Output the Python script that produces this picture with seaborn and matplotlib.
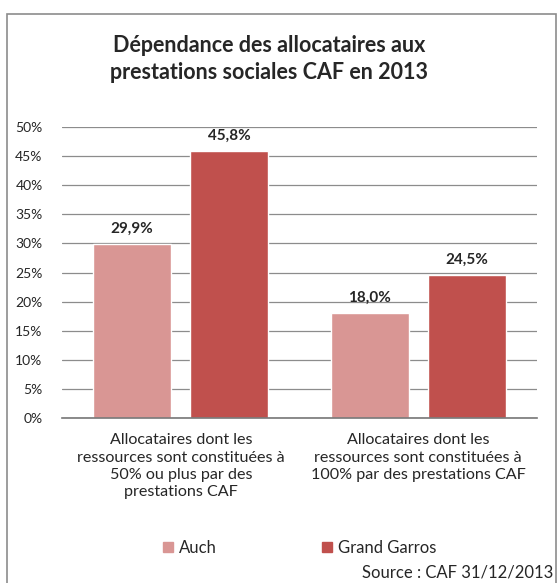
import matplotlib
matplotlib.use("Agg")
import matplotlib.pyplot as plt
import pandas as pd
import seaborn as sns
from matplotlib.patches import Rectangle

categories = [
    "Allocataires dont les\nressources sont constituées à\n50% ou plus par des\nprestations CAF",
    "Allocataires dont les\nressources sont constituées à\n100% par des prestations CAF",
]
series = ["Auch", "Grand Garros"]
auch_values = [29.9, 18.0]
garros_values = [45.8, 24.5]
colors = ["#D99694", "#C0504D"]
yticks = [0, 5, 10, 15, 20, 25, 30, 35, 40, 45, 50]

df = pd.DataFrame({
    "categorie": categories * 2,
    "commune": [series[0]] * 2 + [series[1]] * 2,
    "valeur": auch_values + garros_values,
})

sns.set_style("white")
plt.rcParams["font.family"] = ["Lato", "DejaVu Sans"]

fig = plt.figure(figsize=(5.57, 5.83), dpi=100)
fig.patch.set_facecolor("white")
fig.patches.append(Rectangle((7 / 557, -0.01), 549 / 557, 1 - 14 / 583 + 0.01,
                             transform=fig.transFigure, fill=False,
                             edgecolor="#8c8c8c", lw=1.2))

ax = fig.add_axes([62 / 557, 1 - 418 / 583, 475 / 557, 291 / 583])
sns.barplot(data=df, x="categorie", y="valeur", hue="commune",
            palette=colors, width=0.82, gap=0.2, ax=ax, legend=False,
            saturation=1)

ax.set_ylim(0, 50)
ax.set_yticks(yticks)
ax.set_yticklabels([f"{t}%" for t in yticks], fontsize=10)
ax.yaxis.grid(True, color="#8c8c8c", lw=0.9)
ax.set_axisbelow(True)
for s in ["top", "right", "left"]:
    ax.spines[s].set_visible(False)
ax.spines["bottom"].set_color("#777777")
ax.spines["bottom"].set_linewidth(1.2)
ax.tick_params(axis="y", length=0, pad=14)
ax.tick_params(axis="x", length=0, pad=11)
ax.set_xticks(range(len(categories)))
ax.set_xticklabels(categories, fontsize=11.6, linespacing=1.3)
ax.set_xlabel("")
ax.set_ylabel("")
ax.set_xlim(-0.5, 1.5)

for cont in ax.containers:
    ax.bar_label(cont, labels=[f"{v:.1f}%".replace(".", ",") for v in cont.datavalues],
                 fontsize=11, fontweight="bold", padding=6)

fig.text(0.483, 1 - 59 / 583, "Dépendance des allocataires aux\nprestations sociales CAF en 2013",
         ha="center", va="center", fontsize=15.5, fontweight="bold", linespacing=1.3)

handles = [Rectangle((0, 0), 1, 1, color=c) for c in colors]
fig.legend(handles, series, loc="center left", bbox_to_anchor=(155 / 557, 1 - 548 / 583),
           ncol=2, frameon=False, fontsize=12, handlelength=0.6, handleheight=0.6,
           handletextpad=0.35, columnspacing=6.3, borderpad=0)

fig.text(553 / 557, 1 - 573 / 583, "Source : CAF 31/12/2013", ha="right", va="center",
         fontsize=12)

fig.savefig("out.png", dpi=100)
